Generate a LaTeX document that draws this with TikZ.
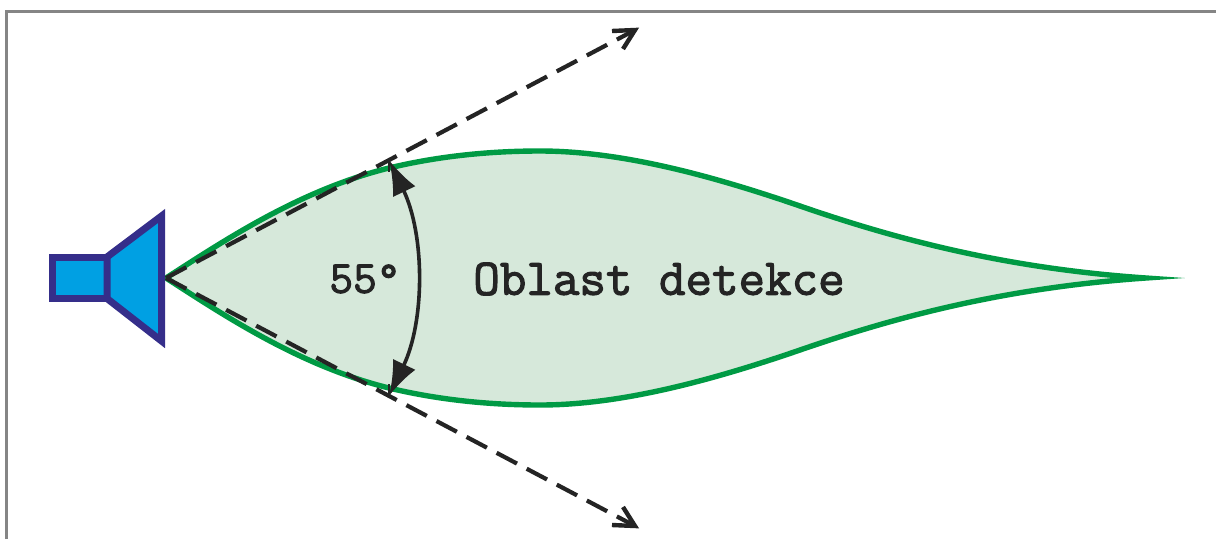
\documentclass[tikz,border=0pt]{standalone}
\usepackage{fontspec}
\usetikzlibrary{arrows.meta}
\newfontfamily\heavymono[FakeBold=2.2]{Latin Modern Mono}
\definecolor{framegray}{HTML}{858585}
\definecolor{lobegreen}{HTML}{009A44}
\definecolor{lobefill}{HTML}{D6E8DA}
\definecolor{hornblue}{HTML}{00A0E3}
\definecolor{hornedge}{HTML}{352E8A}
\definecolor{inkdark}{HTML}{242424}
\tikzset{
  x=1pt,y=-1pt,
  frameline/.style={draw=framegray,line width=3.2pt},
  lobe/.style={draw=lobegreen,fill=lobefill,line width=5.4pt,line join=miter,miter limit=20},
  horn/.style={draw=hornedge,fill=hornblue,line width=7pt,line join=miter,miter limit=10},
  beam/.style={draw=inkdark,line width=4.2pt,dash pattern=on 23pt off 11pt},
  beamtip/.style={draw=inkdark,line width=4.4pt},
  tick/.style={draw=inkdark,line width=2.2pt},
  sweep/.style={draw=inkdark,line width=3.6pt,{Latex[length=35pt,width=25pt]}-{Latex[length=35pt,width=25pt]}},
  label/.style={inner sep=0pt,text=inkdark,font=\fontsize{51.5}{51.5}\selectfont\heavymono},
  anglelabel/.style={inner sep=0pt,text=inkdark,font=\fontsize{46}{46}\selectfont\heavymono}
}
\begin{document}
\begin{tikzpicture}
\useasboundingbox (0,0) rectangle (1216,539);
\coordinate (fl) at (6.5,539);
\coordinate (fc) at (6.5,11.5);
\coordinate (fr) at (1216,11.5);
\draw[frameline] (fl) -- (fc) -- (fr);
\coordinate (apex) at (166,278);
\coordinate (tip) at (1146,278);
\path[lobe] (apex) .. controls (225,240) and (300,190) .. (389,168)
  .. controls (439,156) and (490,151) .. (540,151)
  .. controls (620,151) and (710,175) .. (800,206)
  .. controls (890,237) and (1000,268) .. (tip)
  .. controls (1000,288) and (890,319) .. (800,350)
  .. controls (710,381) and (620,405) .. (540,405)
  .. controls (490,405) and (439,400) .. (389,388)
  .. controls (300,366) and (225,316) .. (apex) -- cycle;
\path[horn] (52.5,257) -- (107,257) -- (107,298.5) -- (52.5,298.5) -- cycle;
\path[horn] (107,257) -- (161.5,216) -- (161.5,341) -- (107,298.5) -- cycle;
\coordinate (utop) at (389,160);
\coordinate (ubot) at (389,396);
\coordinate (uend) at (635,30);
\coordinate (lend) at (635,526);
\draw[beam] (apex) -- (uend);
\draw[beam] (apex) -- (lend);
\draw[beamtip] (612,31) -- (uend) -- (623,49);
\draw[beamtip] (612,525) -- (lend) -- (623,507);
\draw[tick] (utop) -- (389,172);
\draw[tick] (ubot) -- (389,384);
\draw[sweep] (utop) .. controls (425,235) and (425,321) .. (ubot);
\node[anglelabel] (angle) at (365,279) {55°};
\node[label] (lab) at (659,279) {Oblast detekce};
\end{tikzpicture}
\end{document}
